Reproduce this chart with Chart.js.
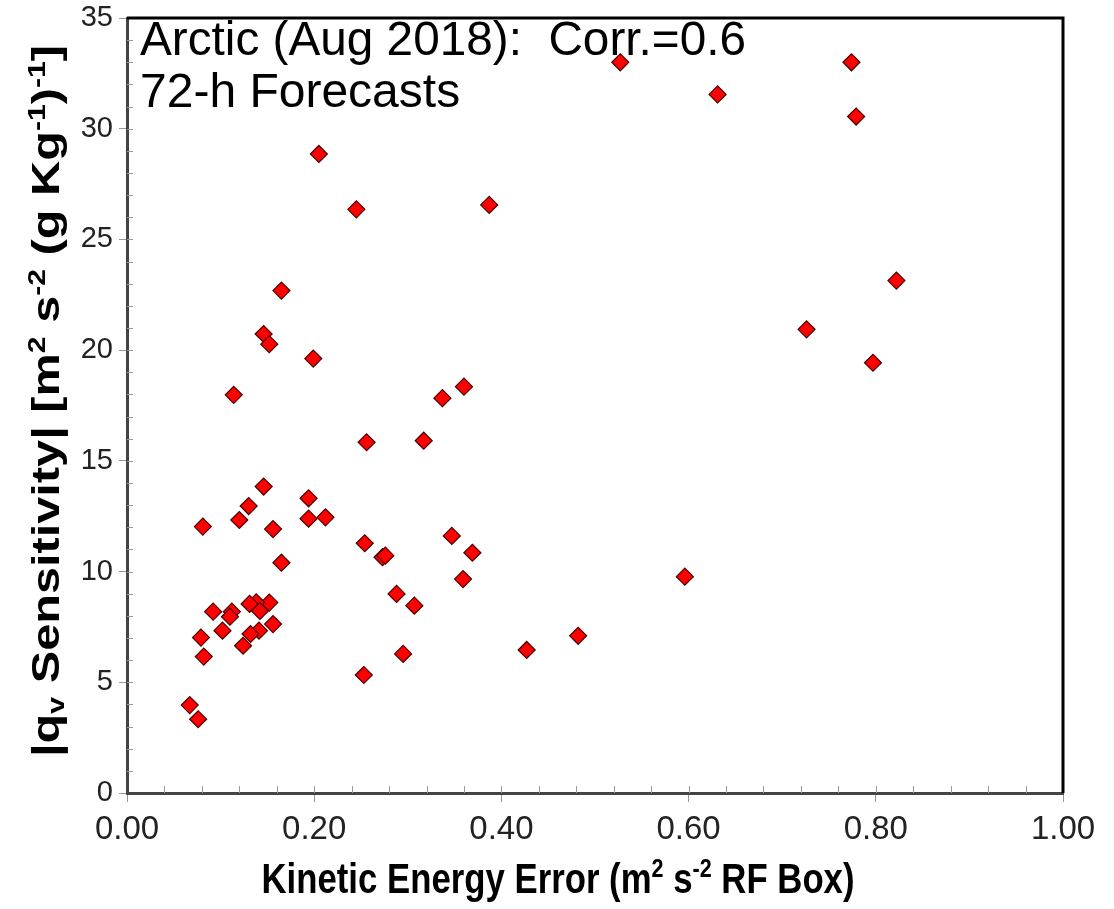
<!DOCTYPE html>
<html>
<head>
<meta charset="utf-8">
<script src="https://cdn.jsdelivr.net/npm/chart.js@4.4.1/dist/chart.umd.min.js"></script>
<style>
  body { margin: 0; background: #fff; }
  canvas { display: block; }
</style>
</head>
<body>
<canvas id="scatterChart" width="1114" height="909"></canvas>
<script>
// kinetic energy error (x) vs |qv sensitivity| (y)
const keError = [
  0.527, 0.631, 0.774, 0.779, 0.205, 0.245, 0.387, 0.822, 0.165, 0.726,
  0.146, 0.152, 0.199, 0.797, 0.360, 0.114, 0.337, 0.317, 0.256, 0.146,
  0.194, 0.130, 0.212, 0.194, 0.120, 0.081, 0.156, 0.347, 0.254, 0.369,
  0.273, 0.276, 0.165, 0.596, 0.359, 0.288, 0.152, 0.138, 0.131, 0.307,
  0.142, 0.112, 0.092, 0.110, 0.156, 0.102, 0.141, 0.132, 0.482, 0.079,
  0.124, 0.427, 0.295, 0.082, 0.253, 0.067, 0.076
];
const qvSens = [
  33.0, 31.55, 33.0, 30.55, 28.86, 26.36, 26.56, 23.14, 22.69, 20.94,
  20.73, 20.27, 19.62, 19.43, 18.35, 17.98, 17.83, 15.91, 15.84, 13.84,
  13.31, 12.96, 12.45, 12.39, 12.33, 12.03, 11.92, 11.61, 11.28, 10.85,
  10.65, 10.72, 10.40, 9.77, 9.66, 8.99, 8.60, 8.61, 8.54, 8.46,
  8.22, 8.19, 8.19, 7.96, 7.63, 7.33, 7.33, 7.18, 7.10, 7.02,
  6.65, 6.46, 6.28, 6.16, 5.33, 3.97, 3.33
];
const xTicks = [0, 0.2, 0.4, 0.6, 0.8, 1.0];
const yTicks = [0, 5, 10, 15, 20, 25, 30, 35];
const titleLines = ["Arctic (Aug 2018):  Corr.=0.6", "72-h Forecasts"];

const points = keError.map((x, i) => ({ x: x, y: qvSens[i] }));

// draws text with super/subscript pieces, scaled along the line to a target width
function drawRich(ctx, parts, x, y, size, weight, family, maxW, align) {
  const fontFor = (p) => weight + " " + (p.s ? size * 0.62 : size) + "px " + family;
  let total = 0;
  parts.forEach(p => { ctx.font = fontFor(p); total += ctx.measureText(p.t).width; });
  const k = maxW ? maxW / total : 1;
  ctx.save();
  ctx.translate(x, y);
  ctx.scale(k, 1);
  let cx = align === "center" ? -total / 2 : 0;
  ctx.textBaseline = "alphabetic";
  ctx.textAlign = "left";
  parts.forEach(p => {
    ctx.font = fontFor(p);
    let dy = 0;
    if (p.s === "sup") dy = -size * 0.38;
    if (p.s === "sub") dy = size * 0.12;
    ctx.fillText(p.t, cx, dy);
    cx += ctx.measureText(p.t).width;
  });
  ctx.restore();
}

const framePlugin = {
  id: "frame",
  beforeDatasetsDraw(chart) {
    const ctx = chart.ctx;
    const a = chart.chartArea;
    const xs = chart.scales.x, ys = chart.scales.y;
    ctx.save();
    // minor ticks pointing into the plot
    ctx.strokeStyle = "#9a9a9a";
    ctx.lineWidth = 1;
    ctx.beginPath();
    for (let i = 1; i < 25; i++) {
      const px = Math.round(xs.getPixelForValue(i * 0.04)) + 0.5;
      ctx.moveTo(px, a.bottom);
      ctx.lineTo(px, a.bottom - 7);
    }
    for (let j = 1; j < 35; j++) {
      const py = Math.round(ys.getPixelForValue(j)) + 0.5;
      ctx.moveTo(a.left, py);
      ctx.lineTo(a.left + 6, py);
    }
    ctx.stroke();
    // top and right frame
    ctx.strokeStyle = "#000";
    ctx.lineWidth = 3;
    ctx.beginPath();
    ctx.moveTo(a.left, a.top);
    ctx.lineTo(a.right, a.top);
    ctx.lineTo(a.right, a.bottom);
    ctx.stroke();
    // title inside the plot
    ctx.fillStyle = "#000";
    drawRich(ctx, [{ t: titleLines[0] }], 140, 55, 48, "normal", "'Liberation Sans', Arial, sans-serif", 606, "left");
    drawRich(ctx, [{ t: titleLines[1] }], 140, 107, 48, "normal", "'Liberation Sans', Arial, sans-serif", 0, "left");
    ctx.restore();
  },
  afterDraw(chart) {
    const ctx = chart.ctx;
    ctx.save();
    ctx.fillStyle = "#000";
    drawRich(ctx, [
      { t: "Kinetic Energy Error (m" }, { t: "2", s: "sup" }, { t: " s" },
      { t: "-2", s: "sup" }, { t: " RF Box)" }
    ], 558, 893, 43, "bold", "'Liberation Sans', Arial, sans-serif", 593, "center");
    ctx.translate(59, 401);
    ctx.rotate(-Math.PI / 2);
    drawRich(ctx, [
      { t: "|q" }, { t: "v", s: "sub" }, { t: " Sensitivity| [m" }, { t: "2", s: "sup" },
      { t: " s" }, { t: "-2", s: "sup" }, { t: " (g Kg" }, { t: "-1", s: "sup" },
      { t: ")" }, { t: "-1", s: "sup" }, { t: "]" }
    ], 0, 0, 38, "bold", "'Liberation Sans', Arial, sans-serif", 712, "center");
    ctx.restore();
  }
};

new Chart(document.getElementById("scatterChart"), {
  type: "scatter",
  data: {
    datasets: [{
      label: "72-h forecasts",
      data: points,
      pointStyle: "rectRot",
      pointRadius: 8.5,
      pointBackgroundColor: "#ff0000",
      pointBorderColor: "#4a0000",
      pointBorderWidth: 1.2
    }]
  },
  options: {
    responsive: false,
    animation: false,
    layout: { padding: { top: 18, right: 51, left: 0, bottom: 0 } },
    plugins: { legend: { display: false }, tooltip: { enabled: false } },
    scales: {
      x: {
        type: "linear",
        min: xTicks[0],
        max: xTicks[xTicks.length - 1],
        afterBuildTicks: (s) => { s.ticks = xTicks.map(v => ({ value: v })); },
        afterFit: (s) => { s.height = 116; },
        ticks: {
          callback: (v) => Number(v).toFixed(2),
          font: { family: "'Liberation Sans Narrow', 'Liberation Sans', Arial", size: 33 },
          color: "#222",
          padding: 8,
          maxRotation: 0
        },
        grid: { drawOnChartArea: false, tickLength: 9, color: "#999" },
        border: { color: "#444", width: 3 }
      },
      y: {
        min: yTicks[0],
        max: yTicks[yTicks.length - 1],
        afterBuildTicks: (s) => { s.ticks = yTicks.map(v => ({ value: v })); },
        afterFit: (s) => { s.width = 127; s.paddingTop = 0; s.paddingBottom = 0; },
        ticks: {
          font: { family: "'Liberation Sans Narrow', 'Liberation Sans', Arial", size: 29, lineHeight: 0.8 },
          color: "#222",
          padding: 6
        },
        grid: { drawOnChartArea: false, tickLength: 8, color: "#999" },
        border: { color: "#444", width: 3 }
      }
    }
  },
  plugins: [framePlugin]
});
</script>
</body>
</html>
